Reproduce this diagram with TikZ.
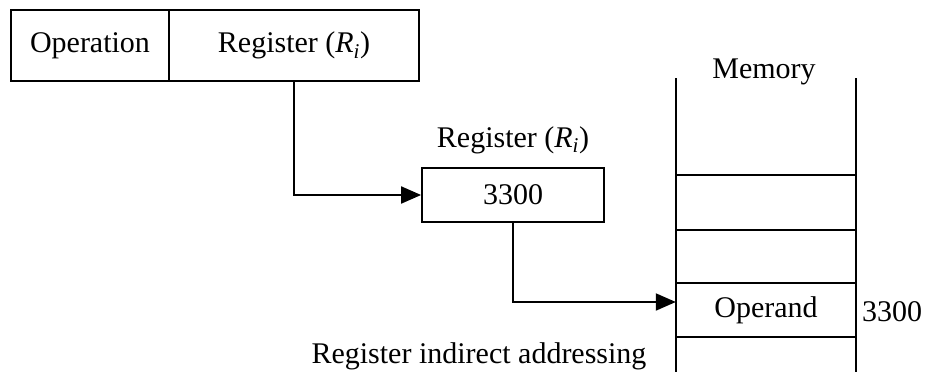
\documentclass[tikz,border=0pt]{standalone}
\usepackage{fontspec}
\setmainfont{Liberation Serif}
\usetikzlibrary{arrows.meta,calc}
\newcommand{\regname}{Register (\textit{R}\textsubscript{\textit{i}})}
\begin{document}
\begin{tikzpicture}[x=1pt,y=-1pt,
  txt/.style={font=\fontsize{30}{35}\selectfont, inner sep=0pt},
  field/.style={draw, line width=1.8pt, inner sep=0pt, font=\fontsize{30}{35}\selectfont},
  memline/.style={line width=1.6pt},
  link/.style={line width=2pt, -{Triangle[length=20pt,width=17pt]}}]
\useasboundingbox (0,0) rectangle (937,372);
% instruction word
\node[field, minimum width=158pt, minimum height=71pt] (op) at (90,45.5) {Operation};
\node[field, minimum width=250pt, minimum height=71pt] (regf) at (294,45.5) {\regname};
% register holding the address
\node[field, minimum width=182pt, minimum height=54pt] (reg) at (513,195) {3300};
\node[txt] (reglab) at (513,140) {\regname};
% memory column
\draw[memline] (676,78) -- (676,372);
\draw[memline] (856,78) -- (856,372);
\foreach \yy in {175,230,283,337} \draw[memline] (676,\yy) -- (856,\yy);
\node[txt] (memlab) at (764,72) {Memory};
\node[inner sep=0pt, minimum width=180pt, minimum height=54pt, font=\fontsize{30}{35}\selectfont] (operand) at (766,310) {Operand};
\node[txt, anchor=west] (addr) at (862,312) {3300};
% connectors
\draw[link] (regf.south) |- (reg.west);
\draw[link] (reg.south) |- ([yshift=8pt]operand.west);
% caption
\node[txt] (cap) at (479,356) {Register indirect addressing};
\end{tikzpicture}
\end{document}
